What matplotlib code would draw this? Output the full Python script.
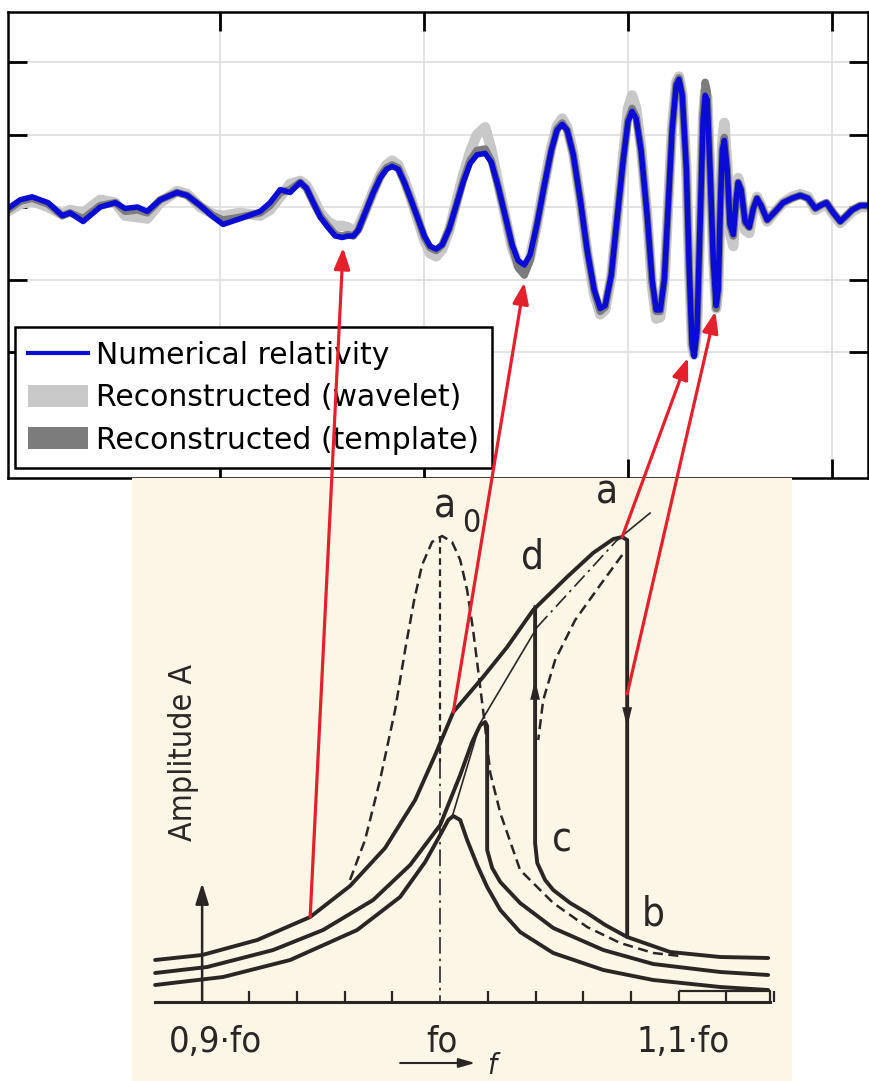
import numpy as np
import matplotlib.pyplot as plt
from matplotlib.lines import Line2D
from matplotlib.patches import Patch, ConnectionPatch

# ---------------- waveform panel: time [s], strain [1e-21] ----------------
t = [0.2480, 0.2510, 0.2539, 0.2578, 0.2613, 0.2632, 0.2664, 0.2706, 0.2743, 0.2767,
     0.2797, 0.2821, 0.2853, 0.2894, 0.2919, 0.2951, 0.2983, 0.3007, 0.3049, 0.3098,
     0.3122, 0.3147, 0.3171, 0.3196, 0.3211, 0.3228, 0.3245, 0.3264, 0.3282, 0.3299,
     0.3313, 0.3326, 0.3338, 0.3355, 0.3375, 0.3392, 0.3407, 0.3421, 0.3436, 0.3451,
     0.3466, 0.3483, 0.3500, 0.3514, 0.3529, 0.3544, 0.3561, 0.3578, 0.3595, 0.3612,
     0.3629, 0.3649, 0.3664, 0.3681, 0.3698, 0.3715, 0.3730, 0.3745, 0.3759, 0.3776,
     0.3794, 0.3811, 0.3825, 0.3838, 0.3850, 0.3865, 0.3882, 0.3899, 0.3916, 0.3931,
     0.3943, 0.3958, 0.3972, 0.3987, 0.3999, 0.4009, 0.4019, 0.4031, 0.4046, 0.4058,
     0.4068, 0.4078, 0.4088, 0.4097, 0.4107, 0.4117, 0.4124, 0.4132, 0.4142, 0.4149,
     0.4156, 0.4161, 0.4168, 0.4176, 0.4183, 0.4188, 0.4193, 0.4200, 0.4208, 0.4215,
     0.4220, 0.4225, 0.4230, 0.4235, 0.4242, 0.4249, 0.4257, 0.4264, 0.4269, 0.4276,
     0.4286, 0.4296, 0.4306, 0.4315, 0.4325, 0.4340, 0.4360, 0.4379, 0.4401, 0.4421,
     0.4440, 0.4458, 0.4470, 0.4485, 0.4502, 0.4519, 0.4534, 0.4548, 0.4568, 0.4590]

nr_h = [-0.01, 0.05, 0.07, 0.03, -0.06, -0.04, -0.10, 0.00, 0.03, -0.01,
        0.00, -0.03, 0.05, 0.10, 0.08, 0.01, -0.07, -0.12, -0.08, -0.03,
        0.03, 0.12, 0.10, 0.17, 0.13, 0.03, -0.07, -0.14, -0.20, -0.21,
        -0.20, -0.20, -0.16, -0.04, 0.10, 0.20, 0.26, 0.28, 0.26, 0.17,
        0.06, -0.07, -0.20, -0.27, -0.29, -0.26, -0.15, 0.01, 0.17, 0.30,
        0.36, 0.37, 0.31, 0.14, -0.06, -0.26, -0.37, -0.40, -0.33, -0.12,
        0.15, 0.39, 0.53, 0.57, 0.53, 0.36, 0.05, -0.30, -0.57, -0.70,
        -0.68, -0.47, -0.09, 0.32, 0.59, 0.66, 0.61, 0.39, -0.06, -0.50,
        -0.71, -0.71, -0.50, -0.02, 0.53, 0.84, 0.88, 0.77, 0.26, -0.43,
        -0.95, -1.03, -0.85, -0.09, 0.60, 0.77, 0.74, 0.26, -0.37, -0.68,
        -0.57, -0.02, 0.39, 0.46, 0.26, -0.12, -0.19, 0.05, 0.17, 0.12,
        -0.10, -0.14, -0.01, 0.06, 0.01, -0.09, -0.03, 0.03, 0.06, 0.08,
        0.06, -0.01, 0.01, 0.03, -0.04, -0.10, -0.06, -0.02, 0.01, 0.01]

wavelet_h = [-0.03, 0.02, 0.04, 0.00, -0.05, -0.02, -0.04, 0.05, 0.03, -0.06,
             -0.07, -0.08, 0.03, 0.11, 0.09, 0.00, -0.05, -0.06, -0.04, -0.06,
             -0.02, 0.07, 0.16, 0.18, 0.15, 0.06, -0.04, -0.10, -0.13, -0.13,
             -0.14, -0.17, -0.14, -0.03, 0.11, 0.22, 0.29, 0.32, 0.29, 0.19,
             0.07, -0.08, -0.23, -0.32, -0.34, -0.29, -0.16, 0.03, 0.22, 0.38,
             0.50, 0.55, 0.40, 0.16, -0.06, -0.28, -0.40, -0.43, -0.35, -0.12,
             0.16, 0.41, 0.56, 0.61, 0.55, 0.37, 0.05, -0.31, -0.60, -0.74,
             -0.71, -0.48, -0.09, 0.35, 0.68, 0.77, 0.68, 0.41, -0.06, -0.55,
             -0.77, -0.76, -0.52, -0.02, 0.55, 0.86, 0.90, 0.78, 0.26, -0.43,
             -0.95, -1.02, -0.85, -0.09, 0.62, 0.80, 0.76, 0.26, -0.37, -0.70,
             -0.57, -0.02, 0.45, 0.58, 0.30, -0.18, -0.27, 0.05, 0.20, 0.12,
             -0.16, -0.18, -0.01, 0.07, 0.01, -0.10, -0.03, 0.03, 0.07, 0.09,
             0.07, -0.02, 0.00, 0.02, -0.05, -0.11, -0.07, -0.03, 0.00, 0.00]

template_h = [-0.02, 0.04, 0.06, 0.02, -0.06, -0.04, -0.08, 0.01, 0.03, -0.03,
              -0.02, -0.04, 0.05, 0.10, 0.08, 0.01, -0.06, -0.09, -0.07, -0.04,
              0.01, 0.10, 0.12, 0.17, 0.13, 0.03, -0.06, -0.13, -0.19, -0.20,
              -0.19, -0.20, -0.16, -0.04, 0.10, 0.21, 0.27, 0.29, 0.27, 0.17,
              0.06, -0.07, -0.21, -0.28, -0.30, -0.26, -0.15, 0.01, 0.18, 0.32,
              0.39, 0.40, 0.32, 0.14, -0.06, -0.27, -0.42, -0.47, -0.37, -0.12,
              0.15, 0.39, 0.54, 0.58, 0.53, 0.36, 0.05, -0.30, -0.58, -0.72,
              -0.69, -0.47, -0.09, 0.32, 0.60, 0.68, 0.62, 0.39, -0.06, -0.52,
              -0.72, -0.72, -0.50, -0.02, 0.53, 0.85, 0.89, 0.77, 0.26, -0.43,
              -0.95, -1.02, -0.85, -0.09, 0.64, 0.86, 0.80, 0.26, -0.37, -0.70,
              -0.57, -0.02, 0.40, 0.48, 0.26, -0.13, -0.20, 0.05, 0.17, 0.12,
              -0.11, -0.14, -0.01, 0.06, 0.01, -0.09, -0.03, 0.03, 0.06, 0.08,
              0.06, -0.01, 0.01, 0.03, -0.04, -0.10, -0.06, -0.02, 0.01, 0.01]

time_ticks = [0.30, 0.35, 0.40, 0.45]
strain_ticks = [-1.0, -0.5, 0.0, 0.5, 1.0]
legend_labels = ["Numerical relativity", "Reconstructed (wavelet)", "Reconstructed (template)"]

# ---------------- resonance sketch: f / f0 against amplitude A ----------------
low_f = [0.8805, 0.9090, 0.9371, 0.9652, 0.9832, 0.9937, 1.0000, 1.0034, 1.0055, 1.0084,
         1.0113, 1.0155, 1.0197, 1.0252, 1.0335, 1.0474, 1.0684, 1.0893, 1.1174, 1.1375]
low_a = [0.17, 0.25, 0.42, 0.72, 1.05, 1.40, 1.67, 1.82, 1.86, 1.82,
         1.62, 1.37, 1.15, 0.92, 0.70, 0.49, 0.32, 0.22, 0.15, 0.12]

mid_f = [0.8805, 0.9023, 0.9300, 0.9509, 0.9719, 0.9874, 1.0000, 1.0084, 1.0134, 1.0168,
         1.0189, 1.0197, 1.0197, 1.0218, 1.0252, 1.0335, 1.0474, 1.0684, 1.0893, 1.1174, 1.1375]
mid_a = [0.29, 0.35, 0.52, 0.72, 1.02, 1.37, 1.77, 2.27, 2.60, 2.77,
         2.80, 2.76, 1.52, 1.34, 1.20, 0.99, 0.74, 0.52, 0.38, 0.30, 0.27]

# upper branch of the strongest drive, ending in the jump a -> b
top_f = [0.8805, 0.9002, 0.9233, 0.9455, 0.9622, 0.9769, 0.9895, 0.9979, 1.0055, 1.0180,
         1.0281, 1.0390, 1.0532, 1.0641, 1.0726, 1.0763, 1.0784, 1.0784]
top_a = [0.42, 0.47, 0.62, 0.85, 1.16, 1.54, 2.02, 2.47, 2.90, 3.25,
         3.55, 3.92, 4.25, 4.49, 4.63, 4.65, 4.62, 0.65]

# lower branch of the strongest drive, with the jump c -> d
low_branch_f = [1.0398, 1.0398, 1.0407, 1.0440, 1.0474, 1.0545, 1.0616, 1.0692, 1.0784,
                1.0964, 1.1174, 1.1375]
low_branch_a = [3.95, 1.59, 1.39, 1.22, 1.12, 0.99, 0.89, 0.77, 0.65, 0.50, 0.45, 0.44]

# backbone through the resonance peaks
spine_f = [1.0050, 1.0168, 1.0407]
spine_a = [1.85, 2.79, 3.75]
spine_dd_f = [1.0407, 1.0742]
spine_dd_a = [3.75, 4.62]
spine_end_f = [1.0742, 1.0880]
spine_end_a = [4.62, 4.89]

# unstable middle branch
unstable_f = [1.0763, 1.0671, 1.0566, 1.0482, 1.0432, 1.0411]
unstable_a = [4.47, 4.17, 3.82, 3.42, 3.02, 2.62]

# undamped resonance a0
free_f = [0.9622, 0.9685, 0.9748, 0.9811, 0.9853, 0.9891, 0.9924, 0.9966, 1.0008, 1.0050,
          1.0084, 1.0113, 1.0138, 1.0159, 1.0185, 1.0210, 1.0252, 1.0335, 1.0474, 1.0616,
          1.0755, 1.0893, 1.1006]
free_a = [1.22, 1.62, 2.22, 2.92, 3.52, 4.02, 4.37, 4.60, 4.66, 4.60,
          4.42, 4.12, 3.72, 3.32, 2.82, 2.29, 1.89, 1.32, 0.99, 0.75,
          0.59, 0.49, 0.46]

freq_ticks = [0.92, 0.94, 0.96, 0.98, 1.02, 1.04, 1.06, 1.08, 1.10, 1.12, 1.14]
freq_labels = ["0,9·fo", "fo", "1,1·fo"]
freq_label_pos = [0.9057, 1.0008, 1.1017]

# links from the sketch to the waveform
link_start = [(0.9455, 0.85), (1.0055, 2.90), (1.0763, 4.65), (1.0784, 3.08)]
link_end = [(0.3301, -0.28), (0.3745, -0.52), (0.4146, -1.04), (0.4213, -0.72)]

BLUE = "#0b0bd6"
LIGHT = "#c8c8c8"
DARK = "#7c7c7c"
INK = "#2b2624"
RED = "#e3202b"
CREAM = "#fbf6e5"

fig = plt.figure(figsize=(8.69, 10.81), dpi=100)

# ---- top: strain waveform ----
ax = fig.add_axes([8 / 869, 603 / 1081, 860 / 869, 466 / 1081])
ax.plot(t, wavelet_h, color=LIGHT, lw=7.5, solid_joinstyle="round", solid_capstyle="round")
ax.plot(t, template_h, color=DARK, lw=5.4, solid_joinstyle="round", solid_capstyle="round")
ax.plot(t, nr_h, color=BLUE, lw=4.0, solid_joinstyle="round", solid_capstyle="round")
ax.set_xlim(0.2480, 0.4587)
ax.set_ylim(-1.869, 1.345)
ax.set_xticks(time_ticks)
ax.set_yticks(strain_ticks)
ax.grid(True, color="#dedede", lw=1.2)
ax.set_axisbelow(True)
ax.tick_params(direction="in", length=14, width=2, top=True, right=True,
               labelbottom=False, labelleft=False)
for s in ax.spines.values():
    s.set_linewidth(1.8)

handles = [Line2D([], [], color=BLUE, lw=3),
           Patch(facecolor=LIGHT, edgecolor="none"),
           Patch(facecolor=DARK, edgecolor="none")]
leg = ax.legend(handles, legend_labels, loc="lower left", bbox_to_anchor=(0.008, 0.021),
                borderaxespad=0, fontsize=21.5, frameon=True, fancybox=False,
                framealpha=1, edgecolor="black", handlelength=2.0, handleheight=0.75,
                handletextpad=0.25, labelspacing=0.45, borderpad=0.45)
leg.get_frame().set_linewidth(1.8)

# ---- bottom: resonance curves of a hardening oscillator ----
bx = fig.add_axes([132 / 869, 0, 660 / 869, 603 / 1081])
bx.set_facecolor(CREAM)
for s in bx.spines.values():
    s.set_visible(False)
bx.set_xticks([])
bx.set_yticks([])
bx.set_xlim(0.8708, 1.1475)
bx.set_ylim(-0.79, 5.24)

thick = dict(color=INK, lw=2.8, solid_joinstyle="round", solid_capstyle="round")
bx.plot(low_f, low_a, **thick)
bx.plot(mid_f, mid_a, **thick)
bx.plot(top_f, top_a, **thick)
bx.plot(low_branch_f, low_branch_a, **thick)
bx.plot(spine_f, spine_a, color=INK, lw=1.2)
bx.plot(spine_dd_f, spine_dd_a, color=INK, lw=1.2, dashes=(9, 3, 1.5, 3))
bx.plot(spine_end_f, spine_end_a, color=INK, lw=1.2)
bx.plot(unstable_f, unstable_a, color=INK, lw=1.8, dashes=(4, 2.2))
bx.plot(free_f, free_a, color=INK, lw=1.8, dashes=(4, 2.2))
bx.plot([1.0, 1.0], [4.66, 2.4], color=INK, lw=1.6, dashes=(3, 2))
bx.plot([1.0, 1.0], [2.4, 0.0], color=INK, lw=1.2, dashes=(10, 3, 1.5, 3))

# jump arrows on the vertical branches
arrow_kw = dict(arrowstyle="-|>,head_length=0.9,head_width=0.22", color=INK, lw=0, mutation_scale=16)
bx.annotate("", xy=(top_f[-1], 2.72), xytext=(top_f[-1], 3.05), arrowprops=arrow_kw)
bx.annotate("", xy=(low_branch_f[0], 3.25), xytext=(low_branch_f[0], 2.9), arrowprops=arrow_kw)

# frequency axis
bx.plot([0.8805, 1.1384], [0, 0], color=INK, lw=2.2)
bx.plot([1.1006, 1.1384, 1.1384], [0.11, 0.11, 0.0], color=INK, lw=1.6)
bx.vlines(freq_ticks, 0, 0.11, color=INK, lw=1.6)
bx.annotate("", xy=(0.9002, 1.19), xytext=(0.9002, 0.0),
            arrowprops=dict(arrowstyle="-|>,head_length=0.7,head_width=0.22",
                            color=INK, lw=1.8, mutation_scale=18, shrinkA=0, shrinkB=0))
bx.annotate("", xy=(1.0147, -0.61), xytext=(0.9832, -0.61),
            arrowprops=dict(arrowstyle="-|>,head_length=0.7,head_width=0.2",
                            color=INK, lw=1.5, mutation_scale=14, shrinkA=0, shrinkB=0))

tk = dict(color=INK, family="DejaVu Sans", fontstretch="condensed", ha="center", va="center")
bx.text(0.8922, 2.50, "Amplitude A", rotation=90, fontsize=23, **tk)
for x, s in zip(freq_label_pos, freq_labels):
    bx.text(x, -0.40, s, fontsize=26, **tk)
bx.text(1.0215, -0.64, "f", fontsize=21, style="italic", **tk)
bx.text(1.0021, 4.96, "a", fontsize=29, **tk)
bx.text(1.0130, 4.78, "0", fontsize=23, **tk)
bx.text(1.0700, 5.10, "a", fontsize=29, **tk)
bx.text(1.0386, 4.44, "d", fontsize=29, **tk)
bx.text(1.0512, 1.62, "c", fontsize=29, **tk)
bx.text(1.0893, 0.87, "b", fontsize=29, **tk)

# red links from the resonance sketch up to the waveform
for (f0, a0), (t1, h1) in zip(link_start, link_end):
    cp = ConnectionPatch(xyA=(f0, a0), coordsA=bx.transData,
                         xyB=(t1, h1), coordsB=ax.transData,
                         arrowstyle="-|>,head_length=0.8,head_width=0.3",
                         mutation_scale=16, color=RED, lw=2.3, zorder=10)
    fig.add_artist(cp)

fig.savefig("out.png", dpi=100)
